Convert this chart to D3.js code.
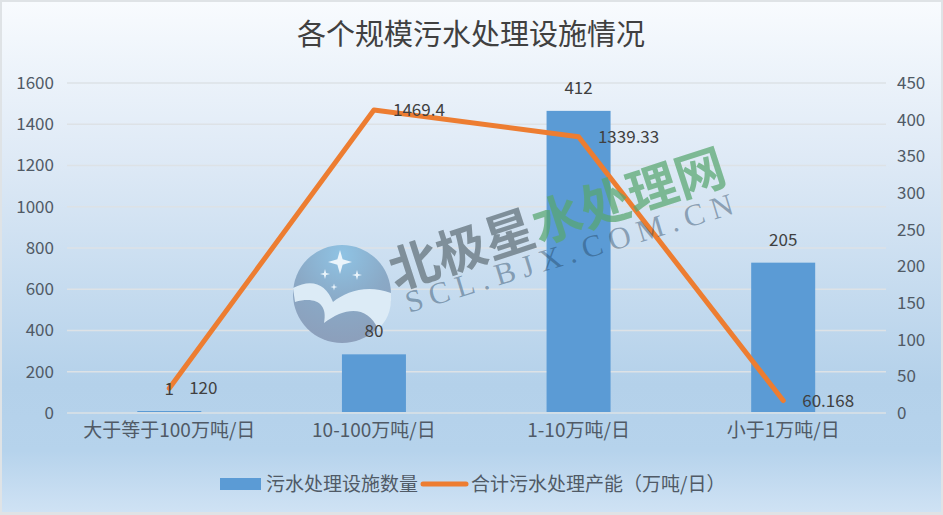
<!DOCTYPE html>
<html><head><meta charset="utf-8">
<script src="https://cdnjs.cloudflare.com/ajax/libs/d3/7.8.5/d3.min.js"></script>
<style>html,body{margin:0;padding:0;background:#dfe3e6;overflow:hidden}svg{display:block}
text{font-family:"Noto Sans CJK SC","Open Sans",sans-serif}</style></head>
<body><svg id="c" width="943" height="515"></svg>
<script>
const title = "各个规模污水处理设施情况";
const categories = ["大于等于100万吨/日","10-100万吨/日","1-10万吨/日","小于1万吨/日"];
const facilityCount = [1,80,412,205];
const capacity = [120,1469.4,1339.33,60.168];
const leftTicks = [0,200,400,600,800,1000,1200,1400,1600];
const rightTicks = [0,50,100,150,200,250,300,350,400,450];
const seriesNames = ["污水处理设施数量","合计污水处理产能（万吨/日）"];
const capacityLabelOffsets = [[34,0],[45,0],[50,0],[45,0]];

const svg = d3.select("#c");
const defs = svg.append("defs");
const g = defs.append("linearGradient").attr("id","bg").attr("x1",0).attr("x2",0).attr("y1",0).attr("y2",1);
[[0,"#f8fbfe"],[0.3,"#dfeaf6"],[0.75,"#b4d1ea"],[0.88,"#b6d3ec"],[1,"#cfe2f4"]].forEach(d=>g.append("stop").attr("offset",d[0]).attr("stop-color",d[1]));
const lg = defs.append("radialGradient").attr("id","logo").attr("cx",".5").attr("cy",".1").attr("r",".9");
lg.append("stop").attr("offset",0).attr("stop-color","#8fc3e4");
lg.append("stop").attr("offset",.55).attr("stop-color","#8aa9c6");
lg.append("stop").attr("offset",1).attr("stop-color","#8c9fbb");

svg.append("rect").attr("x",2).attr("y",2).attr("width",939).attr("height",510).attr("fill","url(#bg)");

const x = d3.scaleBand().domain(categories).range([67,885.5]).paddingInner(0).paddingOuter(0);
const yL = d3.scaleLinear().domain([0,1600]).range([413,83]);
const yR = d3.scaleLinear().domain([0,450]).range([413,83]);
const cx = c => x(c)+x.bandwidth()/2;

// gridlines
svg.append("g").selectAll("line").data(leftTicks).join("line")
 .attr("x1",67).attr("x2",886).attr("y1",d=>yL(d)).attr("y2",d=>yL(d))
 .attr("stroke","#dde2e6").attr("stroke-width",1.6);

// axes
const axL = svg.append("g").attr("transform","translate(67,0)").call(d3.axisLeft(yL).tickValues(leftTicks).tickFormat(d3.format("d")).tickSize(0).tickPadding(13));
const axR = svg.append("g").attr("transform","translate(886,0)").call(d3.axisRight(yR).tickValues(rightTicks).tickFormat(d3.format("d")).tickSize(0).tickPadding(11));
const axB = svg.append("g").attr("transform","translate(0,413)").call(d3.axisBottom(x).tickSize(0).tickPadding(11));
[axL,axR].forEach(a=>{a.select(".domain").remove();a.selectAll("text").attr("font-size",17).attr("fill","#505a66")
  .style("font-family",'"Noto Sans CJK SC","Open Sans",sans-serif');});
axB.select(".domain").remove();
axB.selectAll("text").attr("font-size",19).attr("fill","#505a66").style("font-family",'"Noto Sans CJK SC","Open Sans",sans-serif');

// bars
const barW = 64;
svg.append("g").selectAll("rect").data(categories).join("rect")
 .attr("x",c=>cx(c)-barW/2).attr("width",barW)
 .attr("y",(c,i)=>Math.min(yR(facilityCount[i]),411)).attr("height",(c,i)=>Math.max(1,yR(0)-yR(facilityCount[i])-1))
 .attr("fill","#5b9bd5");

// line
const line = d3.line().x((d,i)=>cx(categories[i])).y(d=>yL(d));
svg.append("path").datum(capacity).attr("d",line).attr("fill","none").attr("stroke","#ed7d31")
 .attr("stroke-width",5).attr("stroke-linecap","round").attr("stroke-linejoin","round");

// watermark
const wm = svg.append("g").attr("pointer-events","none");
wm.append("circle").attr("cx",342).attr("cy",294).attr("r",49).attr("fill","url(#logo)");
wm.append("path").attr("d","M293 288 C312 278 326 284 333 302 C346 292 366 284 391 293 C392 312 386 322 378 329 C368 306 346 306 324 323 C328 304 316 296 295 302 Z").attr("fill","#dcebf6");
const star = (px,py,r)=>`M${px} ${py-r}L${px+r*.22} ${py-r*.22}L${px+r} ${py}L${px+r*.22} ${py+r*.22}L${px} ${py+r}L${px-r*.22} ${py+r*.22}L${px-r} ${py}L${px-r*.22} ${py-r*.22}Z`;
[[340,262,12],[325,274,5],[357,275,5],[334,287,3.5]].forEach(s=>wm.append("path").attr("d",star(...s)).attr("fill","#eaf4fb"));
wm.append("text").attr("transform","translate(396,290) rotate(-18)").attr("font-size",50).attr("font-weight",700).attr("fill","#7f8f9a").text("北极星");
wm.append("text").attr("transform","translate(539,244) rotate(-18)").attr("font-size",50).attr("font-weight",700).attr("fill","#58a66f").attr("fill-opacity",.72).text("水处理网");
wm.append("text").attr("transform","translate(409,313) rotate(-17)").attr("font-size",31).attr("letter-spacing",7.1).attr("fill","#1f3f5c").attr("fill-opacity",.42)
 .style("font-family",'"Liberation Serif",serif').text("SCL.BJX.COM.CN");

// data labels
const lab = svg.append("g").attr("font-size",17).attr("fill","#404040").attr("text-anchor","middle");
lab.selectAll("text.a").data(categories).join("text").attr("class","a")
 .attr("x",c=>cx(c)).attr("y",(c,i)=>yR(facilityCount[i])-23).attr("dy",".35em")
 .text((c,i)=>facilityCount[i]);
lab.selectAll("text.b").data(categories).join("text").attr("class","b")
 .attr("x",(c,i)=>cx(c)+capacityLabelOffsets[i][0]).attr("y",(c,i)=>yL(capacity[i])+capacityLabelOffsets[i][1]).attr("dy",".35em")
 .text((c,i)=>capacity[i]);

// title
svg.append("text").attr("x",471).attr("y",35).attr("dy",".35em").attr("text-anchor","middle").attr("font-size",29).attr("fill","#404040").text(title);

// legend
const lgY = 484;
svg.append("rect").attr("x",220).attr("y",478).attr("width",41).attr("height",12).attr("fill","#5b9bd5");
svg.append("text").attr("x",266).attr("y",lgY).attr("dy",".35em").attr("font-size",19).attr("fill","#505a66").text(seriesNames[0]);
svg.append("line").attr("x1",423).attr("x2",466).attr("y1",lgY).attr("y2",lgY).attr("stroke","#ed7d31").attr("stroke-width",5).attr("stroke-linecap","round");
svg.append("text").attr("x",471).attr("y",lgY).attr("dy",".35em").attr("font-size",19).attr("fill","#505a66").text(seriesNames[1]);
</script></body></html>
